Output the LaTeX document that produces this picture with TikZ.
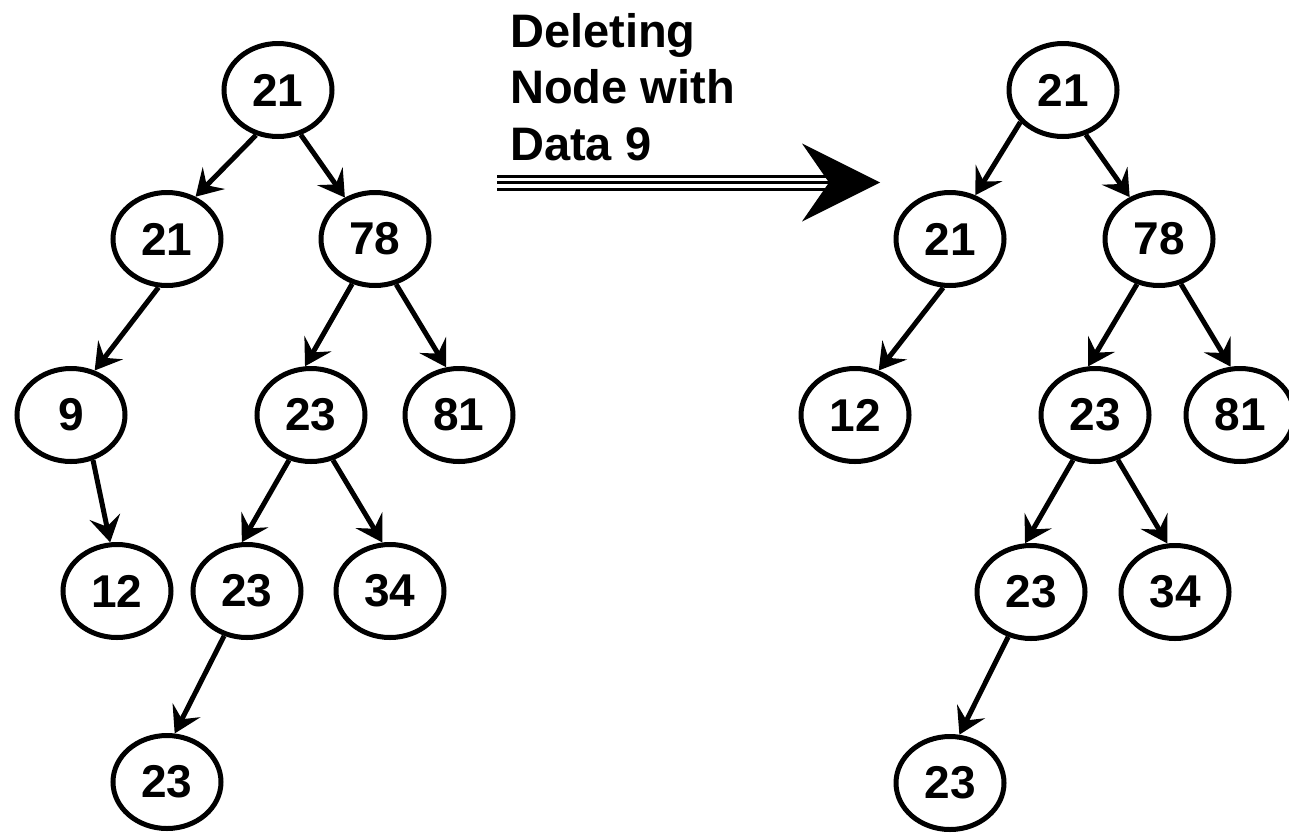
\documentclass[tikz,border=0pt]{standalone}
\usepackage{fontspec}
\setmainfont{Liberation Sans}
\usetikzlibrary{shapes.geometric,arrows.meta}
\begin{document}
\begin{tikzpicture}[x=1pt,y=-1pt,
  bst/.style={ellipse, draw, line width=5pt, minimum width=108pt, minimum height=93pt,
    inner sep=0pt, font=\fontsize{46}{46}\selectfont\bfseries},
  link/.style={line width=5pt, -{Stealth[length=26pt,width=31pt,inset=10pt]}},
  caption/.style={anchor=north west, inner sep=0pt, align=left,
    font=\fontsize{47}{56.5}\selectfont\bfseries},
]
\useasboundingbox (0,0) rectangle (1289,833);

% ---- tree before deletion ----
\node[bst] (a1) at (278,90)  {21};
\node[bst] (a2) at (167,239) {21};
\node[bst] (a3) at (375,239) {78};
\node[bst] (a4) at (71,415)  {9};
\node[bst] (a5) at (311,415) {23};
\node[bst] (a6) at (459,415) {81};
\node[bst] (a7) at (117,591) {12};
\node[bst] (a8) at (247,591) {23};
\node[bst] (a9) at (390,591) {34};
\node[bst] (a10) at (167,782) {23};

\draw[link] (a1.244) -- (a2.56);
\draw[link] (a1.297) -- (a3.126);
\draw[link] (a2.260) -- (a4.62);
\draw[link] (a3.243) -- (a5.97);
\draw[link] (a3.295) -- (a6.105);
\draw[link] (a4.296) -- (a7.98);
\draw[link] (a5.244) -- (a8.96);
\draw[link] (a5.296) -- (a9.99);
\draw[link] (a8.243) -- (a10.81);

% ---- caption and transition arrow ----
\node[caption] (note) at (510,13) {Deleting\\Node with\\Data 9};

\coordinate (shaftL) at (497,182.5);
\coordinate (shaftR) at (833,182.5);
\coordinate (headT) at (880,182.5);
\coordinate (notch) at (829,182.5);
\draw[line width=16pt] (shaftL) -- (shaftR);
\draw[line width=10pt, white] (shaftL) -- (shaftR);
\draw[line width=3pt] (shaftL) -- (shaftR);
\fill (headT) -- ++(-78,-39) -- (notch) -- ++(-27,39) -- cycle;

% ---- tree after deletion ----
\node[bst] (b1) at (1063,90)  {21};
\node[bst] (b2) at (950,239)  {21};
\node[bst] (b3) at (1159,239) {78};
\node[bst] (b4) at (855,415)  {12};
\node[bst] (b5) at (1095,415) {23};
\node[bst] (b6) at (1240,415) {81};
\node[bst] (b8) at (1031,592) {23};
\node[bst] (b9) at (1175,592) {34};
\node[bst] (b10) at (950,783) {23};

\draw[link] (b1.217) -- (b2.60);
\draw[link] (b1.297) -- (b3.125);
\draw[link] (b2.262) -- (b4.62);
\draw[link] (b3.244) -- (b5.98);
\draw[link] (b3.296) -- (b6.101);
\draw[link] (b5.244) -- (b8.97);
\draw[link] (b5.297) -- (b9.99);
\draw[link] (b8.243) -- (b10.79);
\end{tikzpicture}
\end{document}
